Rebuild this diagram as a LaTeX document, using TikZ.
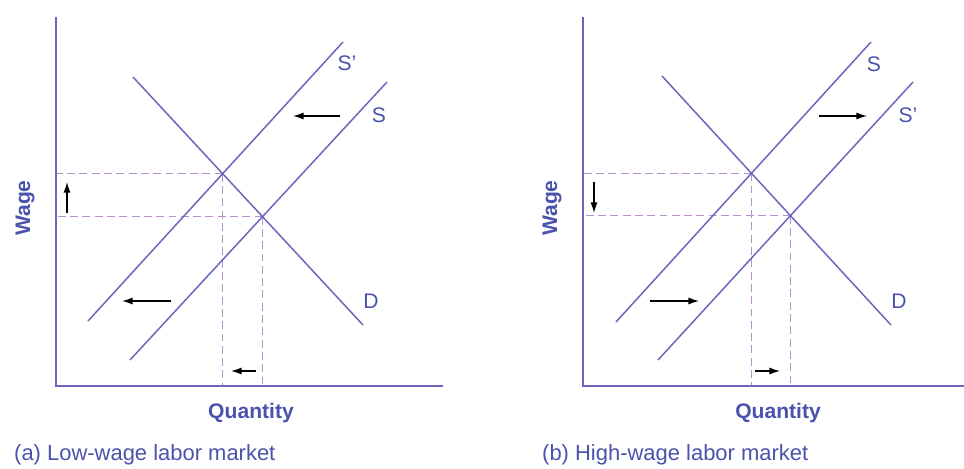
\documentclass[tikz,border=0pt]{standalone}
\usepackage{fontspec}
\setmainfont{Liberation Sans}
\usetikzlibrary{arrows.meta}
\definecolor{curve}{HTML}{6E64BE}
\definecolor{guide}{HTML}{B890CC}
\definecolor{lbl}{HTML}{4A52AC}

\begin{document}
\begin{tikzpicture}[x=0.02cm, y=-0.02cm,
  ax/.style={curve, line width=1.2pt},
  ln/.style={curve, line width=0.85pt},
  dsh/.style={guide, line width=0.85pt, dash pattern=on 4.5pt off 2.5pt},
  move/.style={-{Latex[length=6pt, width=4pt]}, black, line width=0.75pt},
  tag/.style={lbl, font=\fontsize{12}{14}\selectfont},
  ttl/.style={lbl, font=\bfseries\fontsize{12}{14}\selectfont},
  capt/.style={lbl, font=\fontsize{12.5}{14}\selectfont, anchor=west}
]
  \useasboundingbox (0,0) rectangle (964,468);

  % (a) low-wage market
  \coordinate (aO) at (56,386);
  \coordinate (aY) at (56,17);
  \coordinate (aX) at (443,386);
  \coordinate (aSp1) at (88,321);
  \coordinate (aSp2) at (343,42);
  \coordinate (aS1) at (130,360);
  \coordinate (aS2) at (387,82);
  \coordinate (aD1) at (133,77);
  \coordinate (aD2) at (363,325);
  \coordinate (aE1) at (intersection of aD1--aD2 and aSp1--aSp2);
  \coordinate (aE0) at (intersection of aD1--aD2 and aS1--aS2);

  \draw[dsh] (aE1) -- (aE1 -| aO);
  \draw[dsh] (aE0) -- (aE0 -| aO);
  \draw[dsh] (aE1) -- (aE1 |- aO);
  \draw[dsh] (aE0) -- (aE0 |- aO);
  \draw[ax] (aY) -- (aO) -- (aX);
  \draw[ln] (aSp1) -- (aSp2);
  \draw[ln] (aS1) -- (aS2);
  \draw[ln] (aD1) -- (aD2);

  \coordinate (aw0) at (67,213);
  \coordinate (aw1) at (67,182);
  \coordinate (at0) at (340,116);
  \coordinate (at1) at (293,116);
  \coordinate (ab0) at (171,301);
  \coordinate (ab1) at (122,301);
  \coordinate (aq0) at (256,371);
  \coordinate (aq1) at (231,371);
  \foreach \a/\b in {aw0/aw1, at0/at1, ab0/ab1, aq0/aq1}
    \draw[move] (\a) -- (\b);

  \node[tag] (aSpL) at (347,63) {S’};
  \node[tag] (aSL) at (379,115) {S};
  \node[tag] (aDL) at (371,301) {D};
  \node[ttl, rotate=90] (aWage) at (25,208) {Wage};
  \node[ttl] (aQty) at (251,413) {Quantity};
  \node[capt] (aCap) at (8,455) {(a) Low-wage labor market};

  % (b) high-wage market
  \coordinate (bO) at (583,386);
  \coordinate (bY) at (583,17);
  \coordinate (bX) at (964,386);
  \coordinate (bS1) at (616,322);
  \coordinate (bS2) at (871,42);
  \coordinate (bSp1) at (658,360);
  \coordinate (bSp2) at (913,82);
  \coordinate (bD1) at (662,76);
  \coordinate (bD2) at (891,325);
  \coordinate (bE0) at (intersection of bD1--bD2 and bS1--bS2);
  \coordinate (bE1) at (intersection of bD1--bD2 and bSp1--bSp2);

  \draw[dsh] (bE0) -- (bE0 -| bO);
  \draw[dsh] (bE1) -- (bE1 -| bO);
  \draw[dsh] (bE0) -- (bE0 |- bO);
  \draw[dsh] (bE1) -- (bE1 |- bO);
  \draw[ax] (bY) -- (bO) -- (bX);
  \draw[ln] (bS1) -- (bS2);
  \draw[ln] (bSp1) -- (bSp2);
  \draw[ln] (bD1) -- (bD2);

  \coordinate (bw0) at (594,182);
  \coordinate (bw1) at (594,213);
  \coordinate (bt0) at (819,116);
  \coordinate (bt1) at (867,116);
  \coordinate (bb0) at (650,301);
  \coordinate (bb1) at (699,301);
  \coordinate (bq0) at (755,371);
  \coordinate (bq1) at (780,371);
  \foreach \a/\b in {bw0/bw1, bt0/bt1, bb0/bb1, bq0/bq1}
    \draw[move] (\a) -- (\b);

  \node[tag] (bSL) at (874,64) {S};
  \node[tag] (bSpL) at (908,115) {S’};
  \node[tag] (bDL) at (899,301) {D};
  \node[ttl, rotate=90] (bWage) at (552,208) {Wage};
  \node[ttl] (bQty) at (778,413) {Quantity};
  \node[capt] (bCap) at (536,455) {(b) High-wage labor market};
\end{tikzpicture}
\end{document}
